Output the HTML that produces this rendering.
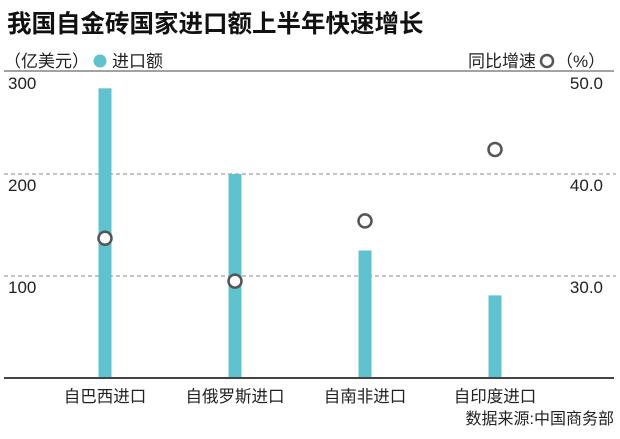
<!DOCTYPE html>
<html><head><meta charset="utf-8"><style>
body{margin:0;background:#fff;}
svg{display:block;font-family:"Liberation Sans","Noto Sans CJK SC",sans-serif;}
</style></head><body>
<svg id="chart" width="620" height="439" viewBox="0 0 620 439">
<text x="7" y="32" font-size="24.5" font-weight="bold" fill="#111">我国自金砖国家进口额上半年快速增长</text>
<text x="4" y="67" font-size="17" fill="#222">（亿美元）</text>
<circle cx="100" cy="61" r="6.5" fill="#5fc3cf"/>
<text x="112" y="67" font-size="17" fill="#222">进口额</text>
<text x="468" y="67" font-size="17" fill="#222">同比增速</text>
<circle cx="547" cy="61" r="6" fill="none" stroke="#555" stroke-width="2.5"/>
<text x="556" y="67" font-size="17" fill="#222">（%）</text>
<line x1="4" y1="71" x2="614" y2="71" stroke="#444" stroke-width="1"/>
<g id="grid"></g><g id="bars"></g><g id="points"></g><g id="labels"></g>
<line x1="4" y1="378" x2="614" y2="378" stroke="#444" stroke-width="2"/>
<text x="614" y="424" font-size="16" fill="#222" text-anchor="end">数据来源:中国商务部</text>
</svg>
<script>
const categories=["自巴西进口","自俄罗斯进口","自南非进口","自印度进口"];
const importValues=[284,200,125,81];
const growthValues=[33.7,29.5,35.4,42.4];
const leftTicks=[100,200,300];
const rightTicks=["30.0","40.0","50.0"];
const NS="http://www.w3.org/2000/svg";
const base=378, plotTop=72;
function yL(v){return base-(base-plotTop)*v/300;}
function yR(v){return base-(base-plotTop)*(v-20)/30;}
function xC(i){return 105+i*130;}
function mk(t,a,p){const e=document.createElementNS(NS,t);for(const k in a)e.setAttribute(k,a[k]);p.appendChild(e);return e;}
const g=document.getElementById('grid'),b=document.getElementById('bars'),pt=document.getElementById('points'),lb=document.getElementById('labels');
leftTicks.forEach((v,i)=>{
 const y=yL(v);
 if(v<300){const l=mk('line',{x1:4,x2:616,y1:y,y2:y,stroke:'#888','stroke-width':1,'stroke-dasharray':'4 3'},g);
 
 }
 const t=mk('text',{x:8,y:y+17,'font-size':17,fill:'#222'},lb);t.textContent=v;
 
 
 const r=mk('text',{x:603,y:y+17,'font-size':17,fill:'#222','text-anchor':'end'},lb);r.textContent=rightTicks[i];
 
 
});
categories.forEach((c,i)=>{
 const y=yL(importValues[i]);
 const r=mk('rect',{x:xC(i)-6.5,y:y,width:13,height:base-y,fill:'#5fc3cf'},b);
 
 
 const p=mk('circle',{cx:xC(i),cy:yR(growthValues[i]),r:6.5,fill:'#fff',stroke:'#555','stroke-width':2.5},pt);
 
 
 const t=mk('text',{x:xC(i),y:402,'font-size':16.5,fill:'#222','text-anchor':'middle'},lb);t.textContent=c;
 
 
});
</script>
</body></html>
